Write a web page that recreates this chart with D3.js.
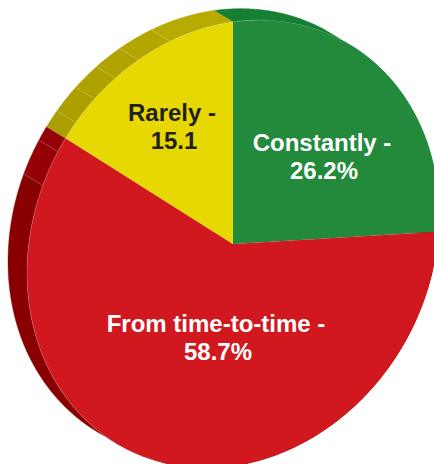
<!DOCTYPE html>
<html>
<head>
<meta charset="utf-8">
<script src="https://cdn.jsdelivr.net/npm/d3@7"></script>
<style>
  html, body { margin: 0; padding: 0; background: #fff; }
  svg { display: block; }
</style>
</head>
<body>
<div id="chart"></div>
<script>
// data
const categories = ["Constantly", "From time-to-time", "Rarely"];
const values = [26.2, 58.7, 15.1];
const valueLabels = ["26.2%", "58.7%", "15.1"];
const topColors = ["#238a3c", "#d1181f", "#e6d800"];
const textColors = ["#ffffff", "#ffffff", "#231f20"];

const width = 434;
const height = 464;

// the pie is a sheared circle, seen from below right
const cx = 233, cy = 244;
const rx = 206, ry = 222, shear = -29;
const depthX = -19, depthY = -11.5;

const svg = d3.select("#chart").append("svg")
	.attr("width", width)
	.attr("height", height)
	.attr("viewBox", [0, 0, width, height]);

const slices = d3.pie().sort(null).value(d => d)(values);
const deg = Math.PI / 180;

function project(angle, depth) {
	const s = Math.sin(angle), c = Math.cos(angle);
	return [
		cx + rx * s + depth * depthX,
		cy + shear * s - ry * c + depth * depthY
	];
}

// facet edges on the side wall, degrees from 12 o'clock
const seams = [-67.4, -58.2, -49.7, -42.2, -34.8, -27.3, -17.7].map(d => (d + 360) * deg);
const wallShade = [
	d3.scaleLinear().domain([0, 94]).range(["#157f33", "#157f33"]),
	d3.scaleLinear().domain([200, 305.6]).range(["#890000", "#960008"]),
	d3.scaleLinear().domain([305.6, 360]).range(["#ab9d00", "#b9ac00"])
];

// side wall
const wall = svg.append("g");
const line = d3.line();
slices.forEach((s, i) => {
	const cuts = [s.startAngle]
		.concat(seams.filter(a => a > s.startAngle && a < s.endAngle))
		.concat([s.endAngle]);
	d3.pairs(cuts).forEach(([a0, a1]) => {
		const steps = d3.range(a0, a1, 0.01).concat([a1]);
		const front = steps.map(a => project(a, 0));
		const back = steps.slice().reverse().map(a => project(a, 1));
		wall.append("path")
			.attr("d", line(front.concat(back)) + "Z")
			.attr("fill", wallShade[i]((a0 + a1) / 2 / deg))
			.attr("stroke", wallShade[i]((a0 + a1) / 2 / deg))
			.attr("stroke-width", 0.4);
	});
});
wall.selectAll(".seam")
	.data(seams)
	.join("path")
	.attr("class", "seam")
	.attr("d", a => line([project(a, 0), project(a, 1)]))
	.attr("stroke", "#fff")
	.attr("stroke-opacity", 0.3)
	.attr("stroke-width", 0.6)
	.attr("fill", "none");

// top face
const arc = d3.arc().innerRadius(0).outerRadius(100);
svg.append("g")
	.attr("transform", `matrix(${rx / 100},${shear / 100},0,${ry / 100},${cx},${cy})`)
	.selectAll("path")
	.data(slices)
	.join("path")
	.attr("d", arc)
	.attr("fill", (d, i) => topColors[i]);

// light rim where the top meets the wall
svg.append("path")
	.attr("d", line(d3.range(200 * deg, 370 * deg, 0.01).map(a => project(a, 0))))
	.attr("fill", "none")
	.attr("stroke", "#fff")
	.attr("stroke-opacity", 0.3)
	.attr("stroke-width", 0.6);

// labels
const labelAnchors = [[322, 151], [216, 332], [172, 121]];
const labels = svg.append("g")
	.attr("font-family", "'Liberation Sans', Arial, sans-serif")
	.attr("font-weight", "bold")
	.attr("font-size", 24)
	.attr("text-anchor", "middle");

categories.forEach((name, i) => {
	const t = labels.append("text")
		.attr("fill", textColors[i])
		.attr("x", labelAnchors[i][0])
		.attr("y", labelAnchors[i][1]);
	t.append("tspan").text(name + " -");
	t.append("tspan")
		.attr("x", labelAnchors[i][0] + 2)
		.attr("dy", 28)
		.text(valueLabels[i]);
});
</script>
</body>
</html>
